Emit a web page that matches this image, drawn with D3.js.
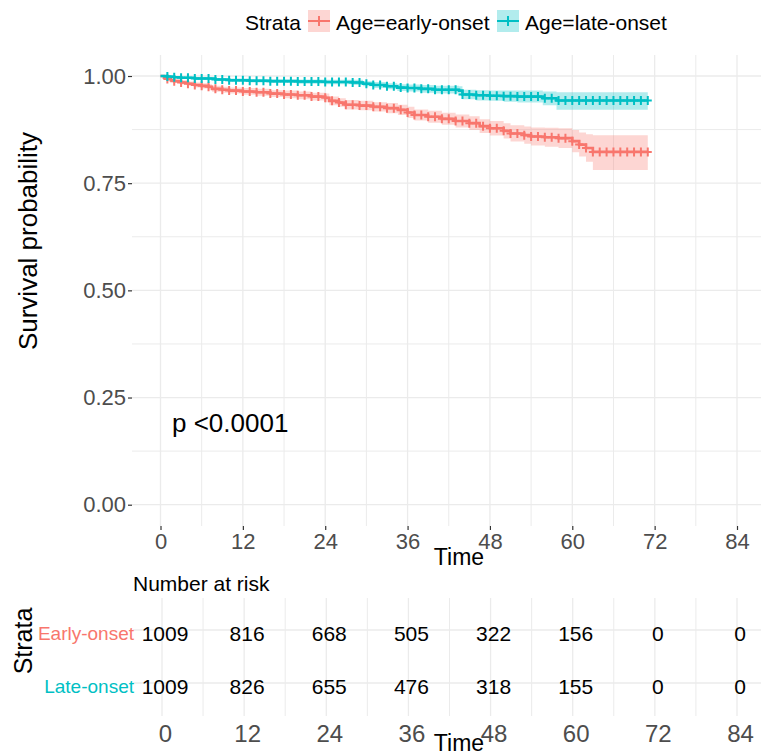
<!DOCTYPE html>
<html><head><meta charset="utf-8">
<script src="https://cdn.jsdelivr.net/npm/d3@7"></script>
<style>body{margin:0;background:#fff} svg{display:block} text{font-family:"Liberation Sans",Arial,Helvetica,sans-serif}</style>
</head><body>
<svg id="c" width="761" height="756"></svg>
<script>
// ---------- data ----------
const strata = ["Age=early-onset", "Age=late-onset"];
const riskLabels = ["Early-onset", "Late-onset"];
const colors = ["#F8766D", "#00BFC4"];
const pText = "p <0.0001";

const earlyTime  = [0, 0.5, 1, 1.5, 2, 3, 4, 5, 6, 7, 7.5, 9, 10, 12, 14, 16, 18, 20, 22, 24, 24.6, 26, 27, 29, 31, 33, 34.6, 36, 37, 39, 41, 43, 45, 46.5, 48, 50, 51, 53, 54, 56, 58, 60, 61, 62, 63, 71];
const earlySurv  = [1, 0.996, 0.993, 0.99, 0.988, 0.985, 0.982, 0.979, 0.977, 0.975, 0.97, 0.968, 0.966, 0.964, 0.962, 0.959, 0.957, 0.955, 0.952, 0.949, 0.942, 0.938, 0.933, 0.931, 0.928, 0.925, 0.921, 0.915, 0.909, 0.905, 0.9, 0.895, 0.89, 0.883, 0.878, 0.872, 0.866, 0.862, 0.859, 0.857, 0.855, 0.848, 0.84, 0.832, 0.823, 0.823];
const earlyLower = [1, 0.994, 0.99, 0.986, 0.984, 0.98, 0.977, 0.973, 0.971, 0.969, 0.963, 0.961, 0.959, 0.956, 0.954, 0.951, 0.948, 0.946, 0.943, 0.939, 0.932, 0.928, 0.922, 0.92, 0.917, 0.913, 0.909, 0.902, 0.896, 0.891, 0.886, 0.88, 0.874, 0.867, 0.861, 0.854, 0.847, 0.842, 0.838, 0.835, 0.832, 0.822, 0.812, 0.8, 0.781, 0.781];
const earlyUpper = [1, 0.998, 0.996, 0.994, 0.992, 0.99, 0.987, 0.985, 0.983, 0.981, 0.977, 0.975, 0.973, 0.972, 0.97, 0.967, 0.966, 0.964, 0.961, 0.959, 0.952, 0.948, 0.944, 0.942, 0.939, 0.937, 0.933, 0.928, 0.922, 0.919, 0.914, 0.91, 0.906, 0.899, 0.895, 0.89, 0.885, 0.882, 0.88, 0.879, 0.878, 0.874, 0.868, 0.864, 0.862, 0.862];

const lateTime  = [0, 1, 2, 3, 5, 8, 10, 13, 16, 20, 24, 28, 29.5, 31, 33, 34.5, 36, 38, 40, 43.5, 44, 46, 48, 50, 52, 55.7, 57.7, 71];
const lateSurv  = [1, 0.999, 0.997, 0.996, 0.994, 0.992, 0.99, 0.989, 0.988, 0.987, 0.986, 0.985, 0.982, 0.979, 0.976, 0.973, 0.972, 0.97, 0.968, 0.966, 0.957, 0.955, 0.954, 0.953, 0.952, 0.948, 0.943, 0.943];
const lateLower = [1, 0.998, 0.995, 0.994, 0.991, 0.989, 0.986, 0.985, 0.984, 0.982, 0.981, 0.979, 0.976, 0.972, 0.969, 0.965, 0.964, 0.961, 0.959, 0.956, 0.946, 0.943, 0.942, 0.94, 0.938, 0.932, 0.921, 0.921];
const lateUpper = [1, 1, 0.999, 0.998, 0.997, 0.995, 0.994, 0.993, 0.992, 0.992, 0.991, 0.991, 0.988, 0.986, 0.983, 0.981, 0.98, 0.979, 0.977, 0.976, 0.968, 0.967, 0.966, 0.966, 0.966, 0.964, 0.962, 0.962];

const censorTimes = [1, 2, 3, 4, 5, 6, 7, 8, 9, 10, 11, 12, 13, 14, 15, 16, 17, 18, 19, 20, 21, 22, 23, 24, 25, 26, 27, 28, 29, 30, 31, 32, 33, 34, 35, 36, 37, 38, 39, 40, 41, 42, 43, 44, 45, 46, 47, 48, 49, 50, 51, 52, 53, 54, 55, 56, 57, 58, 59, 60, 61, 62, 63, 64, 65, 66, 67, 68, 69, 70, 71];

const xTicks = [0, 12, 24, 36, 48, 60, 72, 84];
const xMinor = [6, 18, 30, 42, 54, 66, 78];
const yTicks = [0, 0.25, 0.5, 0.75, 1];
const yMinor = [0.125, 0.375, 0.625, 0.875];

const riskTimes = [0, 12, 24, 36, 48, 60, 72, 84];
const riskEarly = [1009, 816, 668, 505, 322, 156, 0, 0];
const riskLate  = [1009, 826, 655, 476, 318, 155, 0, 0];

// ---------- drawing ----------
const svg = d3.select("#c");
const grid = "#EBEBEB";
const axisGrey = "#4D4D4D";

// main panel geometry
const P = {left: 132, right: 766, top: 55, bottom: 526};
const x = d3.scaleLinear().domain([0, 84]).range([160.5, 737]);
const y = d3.scaleLinear().domain([0, 1]).range([504.7, 76]);

const gMain = svg.append("g");
svg.append("clipPath").attr("id", "clipMain").append("rect")
  .attr("x", P.left).attr("y", P.top).attr("width", P.right - P.left).attr("height", P.bottom - P.top);

// grid
gMain.selectAll("line.yminor").data(yMinor).join("line")
  .attr("x1", P.left).attr("x2", P.right).attr("y1", d => y(d)).attr("y2", d => y(d))
  .attr("stroke", grid).attr("stroke-width", 1);
gMain.selectAll("line.xminor").data(xMinor).join("line")
  .attr("y1", P.top).attr("y2", P.bottom).attr("x1", d => x(d)).attr("x2", d => x(d))
  .attr("stroke", grid).attr("stroke-width", 1);
gMain.selectAll("line.ymajor").data(yTicks).join("line")
  .attr("x1", P.left).attr("x2", P.right).attr("y1", d => y(d)).attr("y2", d => y(d))
  .attr("stroke", grid).attr("stroke-width", 1.3);
gMain.selectAll("line.xmajor").data(xTicks).join("line")
  .attr("y1", P.top).attr("y2", P.bottom).attr("x1", d => x(d)).attr("x2", d => x(d))
  .attr("stroke", grid).attr("stroke-width", 1.3);

// curves
const series = [
  {t: earlyTime, s: earlySurv, lo: earlyLower, hi: earlyUpper, c: colors[0]},
  {t: lateTime, s: lateSurv, lo: lateLower, hi: lateUpper, c: colors[1]}
];
const plotG = svg.append("g").attr("clip-path", "url(#clipMain)");
const area = d3.area().x(d => x(d.t)).y0(d => y(d.lo)).y1(d => y(d.hi)).curve(d3.curveStepAfter);
const line = d3.line().x(d => x(d.t)).y(d => y(d.s)).curve(d3.curveStepAfter);
series.forEach(sr => {
  sr.pts = sr.t.map((t, i) => ({t, s: sr.s[i], lo: sr.lo[i], hi: sr.hi[i]}));
  plotG.append("path").attr("d", area(sr.pts)).attr("fill", sr.c).attr("fill-opacity", 0.3);
});
series.forEach(sr => {
  plotG.append("path").attr("d", line(sr.pts)).attr("fill", "none").attr("stroke", sr.c).attr("stroke-width", 2.6);
  const cens = censorTimes.filter(t => t <= sr.t[sr.t.length - 1]).map(t => ({t, s: sr.s[d3.bisectRight(sr.t, t) - 1]}));
  const g = plotG.append("g");
  g.selectAll("path").data(cens).join("path")
    .attr("d", d => `M${x(d.t) - 4},${y(d.s)}H${x(d.t) + 4}M${x(d.t)},${y(d.s) - 4.5}V${y(d.s) + 4.5}`)
    .attr("stroke", sr.c).attr("stroke-width", 2).attr("fill", "none");
});

// axes
const yAxis = d3.axisLeft(y).tickValues(yTicks).tickFormat(d3.format(".2f")).tickSize(4).tickPadding(2);
const gy = svg.append("g").attr("transform", `translate(${P.left},0)`).call(yAxis);
gy.select(".domain").remove();
gy.selectAll(".tick line").attr("stroke", "#333").attr("stroke-width", 1.2);
gy.selectAll(".tick text").attr("fill", axisGrey).style("font-size", "22px").style("font-family", "'Liberation Sans',Arial,sans-serif");

const xAxis = d3.axisBottom(x).tickValues(xTicks).tickSize(4).tickPadding(3);
const gx = svg.append("g").attr("transform", `translate(0,${P.bottom})`).call(xAxis);
gx.select(".domain").remove();
gx.selectAll(".tick line").attr("stroke", "#333").attr("stroke-width", 1.2);
gx.selectAll(".tick text").attr("fill", axisGrey).style("font-size", "22px").style("font-family", "'Liberation Sans',Arial,sans-serif");

// titles
svg.append("text").attr("transform", "translate(37,241) rotate(-90)").attr("text-anchor", "middle")
  .style("font-size", "26px").attr("fill", "#000").text("Survival probability");
svg.append("text").attr("x", 459).attr("y", 565).attr("text-anchor", "middle")
  .style("font-size", "23px").attr("fill", "#000").text("Time");
svg.append("text").attr("x", 172).attr("y", 432)
  .style("font-size", "26px").attr("fill", "#000").text(pText);

// legend
svg.append("text").attr("x", 245).attr("y", 30).style("font-size", "21px").attr("fill", "#000").text("Strata");
const legX = [308, 497];
strata.forEach((s, i) => {
  const lg = svg.append("g").attr("transform", `translate(${legX[i]},10)`);
  lg.append("rect").attr("width", 22).attr("height", 22).attr("fill", colors[i]).attr("fill-opacity", 0.3);
  lg.append("path").attr("d", "M0,11H22M11,6V16").attr("stroke", colors[i]).attr("stroke-width", 2).attr("fill", "none");
  lg.append("text").attr("x", 28).attr("y", 20).style("font-size", "21px").attr("fill", "#000").text(s);
});

// ---------- risk table ----------
const T = {left: 133, right: 761, top: 598, bottom: 716};
const xt = d3.scaleLinear().domain([0, 84]).range([162, 737]);
const yt = d3.scalePoint().domain(riskLabels).range([630, 683]);

svg.append("text").attr("x", 133).attr("y", 591).style("font-size", "21px").attr("fill", "#000").text("Number at risk");

const gt = svg.append("g");
gt.selectAll("line.tminor").data(xMinor).join("line")
  .attr("y1", T.top).attr("y2", T.bottom).attr("x1", d => xt(d)).attr("x2", d => xt(d))
  .attr("stroke", grid).attr("stroke-width", 1);
gt.selectAll("line.tmajor").data(xTicks).join("line")
  .attr("y1", T.top).attr("y2", T.bottom).attr("x1", d => xt(d)).attr("x2", d => xt(d))
  .attr("stroke", grid).attr("stroke-width", 1.3);
gt.selectAll("line.trow").data(riskLabels).join("line")
  .attr("x1", T.left).attr("x2", T.right).attr("y1", d => yt(d)).attr("y2", d => yt(d))
  .attr("stroke", grid).attr("stroke-width", 1.3);

const rows = [riskEarly, riskLate];
rows.forEach((vals, r) => {
  gt.selectAll(null).data(vals.map((v, i) => ({t: riskTimes[i], v}))).join("text")
    .attr("x", d => xt(d.t) + 3).attr("y", yt(riskLabels[r]) + 3)
    .attr("text-anchor", "middle").attr("dominant-baseline", "central")
    .style("font-size", "21px").attr("fill", "#000").text(d => d.v);
  gt.append("text").attr("x", 134).attr("y", yt(riskLabels[r]) + 3)
    .attr("text-anchor", "end").attr("dominant-baseline", "central")
    .style("font-size", "19px").attr("fill", colors[r]).text(riskLabels[r]);
});

svg.append("text").attr("transform", "translate(32,641) rotate(-90)").attr("text-anchor", "middle")
  .style("font-size", "25px").attr("fill", "#000").text("Strata");

const xtAxis = d3.axisBottom(xt).tickValues(riskTimes).tickSize(0).tickPadding(9);
const gxt = svg.append("g").attr("transform", `translate(3,${T.bottom})`).call(xtAxis);
gxt.select(".domain").remove();
gxt.selectAll(".tick text").attr("fill", axisGrey).style("font-size", "24px").style("font-family", "'Liberation Sans',Arial,sans-serif");

svg.append("text").attr("x", 459).attr("y", 751).attr("text-anchor", "middle")
  .style("font-size", "23px").attr("fill", "#000").text("Time");
</script>
</body></html>
